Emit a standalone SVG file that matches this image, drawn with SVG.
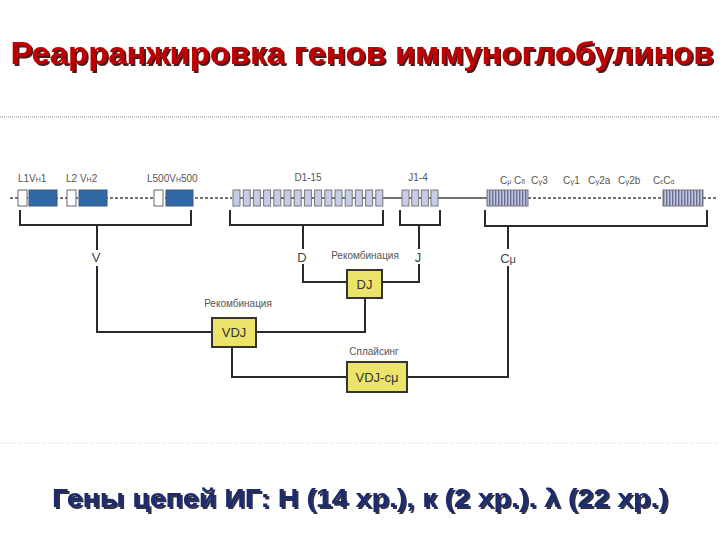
<svg xmlns="http://www.w3.org/2000/svg" width="720" height="540" viewBox="0 0 720 540">
<defs>
<style>
.lbl{font-family:"Liberation Sans",Arial,sans-serif;font-size:10px;fill:#555}
.big{font-family:"Liberation Sans",Arial,sans-serif;font-size:13px;fill:#444}
.conn{fill:none;stroke:#2a2a2a;stroke-width:2}
.brk{fill:none;stroke:#2a2a2a;stroke-width:2}
.ybox{fill:#ece46a;stroke:#333;stroke-width:2}
.ytxt{font-family:"Liberation Sans",Arial,sans-serif;font-size:13px;fill:#333;text-anchor:middle}
.lbox{fill:#fff;stroke:#666;stroke-width:1}
.vbox{fill:#2f68a4;stroke:#3a5a80;stroke-width:1}
.dbox{fill:#c6cbe6;stroke:#777;stroke-width:1}
.dash{stroke:#444;stroke-width:1.5;stroke-dasharray:3 2;fill:none}
.solid{stroke:#444;stroke-width:1.5;fill:none}
</style>
<filter id="shadowR" x="-5%" y="-20%" width="110%" height="150%">
<feDropShadow dx="2" dy="2" stdDeviation="0.4" flood-color="#3a0000" flood-opacity="0.9"/>
</filter>
<filter id="shadowB" x="-5%" y="-20%" width="110%" height="150%">
<feDropShadow dx="2" dy="2" stdDeviation="0.4" flood-color="#000010" flood-opacity="0.8"/>
</filter>
<pattern id="stripe" width="3" height="16" patternUnits="userSpaceOnUse">
<rect width="3" height="16" fill="#c2c6e2"/>
<rect width="1.4" height="16" fill="#6a6e90"/>
</pattern>
</defs>
<rect width="720" height="540" fill="#fff"/>

<g id="title">
<text x="362" y="64" text-anchor="middle" font-family="'Liberation Sans',Arial,sans-serif" font-weight="bold" font-size="31" fill="#c00000" textLength="703" lengthAdjust="spacingAndGlyphs" filter="url(#shadowR)">Реарранжировка генов иммуноглобулинов</text>
</g>
<line x1="0" y1="117" x2="720" y2="117" stroke="#888" stroke-width="1" stroke-dasharray="1 1"/>
<line x1="0" y1="443" x2="720" y2="443" stroke="#ccc" stroke-width="1" stroke-dasharray="1 2"/>

<g id="backbone">
<line class="dash" x1="10" y1="198" x2="232" y2="198"/>
<line class="solid" x1="233" y1="198" x2="487" y2="198"/>
<line class="dash" x1="528" y1="198" x2="663" y2="198"/>
<line class="dash" x1="703" y1="198" x2="716" y2="198"/>
</g>

<g id="V-segments">
<rect class="lbox" x="18" y="190" width="9" height="16"/>
<rect class="vbox" x="29" y="190" width="28" height="16"/>
<rect class="lbox" x="67" y="190" width="9" height="16"/>
<rect class="vbox" x="79" y="190" width="28" height="16"/>
<rect class="lbox" x="154" y="190" width="9" height="16"/>
<rect class="vbox" x="166" y="190" width="27" height="16"/>
<text class="lbl" x="18" y="182">L1V<tspan font-size="7">H</tspan>1</text>
<text class="lbl" x="66" y="182">L2 V<tspan font-size="7">H</tspan>2</text>
<text class="lbl" x="147" y="182">L500V<tspan font-size="7">H</tspan>500</text>
</g>

<g id="D-segments">
<rect class="dbox" x="233" y="190" width="7" height="16"/>
<rect class="dbox" x="243.2" y="190" width="7" height="16"/>
<rect class="dbox" x="253.4" y="190" width="7" height="16"/>
<rect class="dbox" x="263.6" y="190" width="7" height="16"/>
<rect class="dbox" x="273.8" y="190" width="7" height="16"/>
<rect class="dbox" x="284" y="190" width="7" height="16"/>
<rect class="dbox" x="294.2" y="190" width="7" height="16"/>
<rect class="dbox" x="304.4" y="190" width="7" height="16"/>
<rect class="dbox" x="314.6" y="190" width="7" height="16"/>
<rect class="dbox" x="324.8" y="190" width="7" height="16"/>
<rect class="dbox" x="335" y="190" width="7" height="16"/>
<rect class="dbox" x="345.2" y="190" width="7" height="16"/>
<rect class="dbox" x="355.4" y="190" width="7" height="16"/>
<rect class="dbox" x="365.6" y="190" width="7" height="16"/>
<rect class="dbox" x="375.8" y="190" width="7" height="16"/>
<text class="lbl" x="308" y="181" text-anchor="middle">D1-15</text>
</g>

<g id="J-segments">
<rect class="dbox" x="402" y="190" width="7" height="16"/>
<rect class="dbox" x="411.7" y="190" width="7" height="16"/>
<rect class="dbox" x="421.4" y="190" width="7" height="16"/>
<rect class="dbox" x="431" y="190" width="7" height="16"/>
<text class="lbl" x="418" y="181" text-anchor="middle">J1-4</text>
</g>

<g id="C-segments">
<rect x="487" y="190" width="41" height="16" fill="url(#stripe)" stroke="#777" stroke-width="1"/>
<rect x="663" y="190" width="40" height="16" fill="url(#stripe)" stroke="#777" stroke-width="1"/>
<text class="lbl" x="500" y="184">C<tspan font-size="7">μ</tspan></text>
<text class="lbl" x="514" y="184">C<tspan font-size="7">δ</tspan></text>
<text class="lbl" x="531" y="184">C<tspan font-size="8">γ</tspan>3</text>
<text class="lbl" x="563" y="184">C<tspan font-size="8">γ</tspan>1</text>
<text class="lbl" x="588" y="184">C<tspan font-size="8">γ</tspan>2a</text>
<text class="lbl" x="618" y="184">C<tspan font-size="8">γ</tspan>2b</text>
<text class="lbl" x="653" y="184">C<tspan font-size="7">ε</tspan>C<tspan font-size="7">α</tspan></text>
</g>

<g id="brackets">
<path class="brk" d="M20,210 V225 H191 V210"/>
<path class="brk" d="M230,210 V225 H383 V210"/>
<path class="brk" d="M400,210 V225 H440 V210"/>
<path class="brk" d="M485,210 V226 H707 V210"/>
</g>

<g id="connectors">
<path class="conn" d="M97,225 V250"/>
<path class="conn" d="M97,266 V332 H212"/>
<path class="conn" d="M303,225 V249"/>
<path class="conn" d="M303,264 V282 H347"/>
<path class="conn" d="M419,225 V249"/>
<path class="conn" d="M419,264 V282 H382"/>
<path class="conn" d="M365,298 V332 H256"/>
<path class="conn" d="M232,347 V377 H347"/>
<path class="conn" d="M508,226 V249"/>
<path class="conn" d="M508,266 V377 H407"/>
<text class="big" x="96" y="262" text-anchor="middle">V</text>
<text class="big" x="302" y="262" text-anchor="middle">D</text>
<text class="big" x="418" y="262" text-anchor="middle">J</text>
<text class="big" x="508" y="263" text-anchor="middle">C<tspan font-size="11">μ</tspan></text>
</g>

<g id="DJ">
<rect class="ybox" x="347" y="270" width="35" height="28"/>
<text class="ytxt" x="364.5" y="289">DJ</text>
<text class="lbl" x="365" y="259" text-anchor="middle">Рекомбинация</text>
</g>

<g id="VDJ">
<rect class="ybox" x="212" y="318" width="44" height="29"/>
<text class="ytxt" x="234" y="337">VDJ</text>
<text class="lbl" x="238" y="307" text-anchor="middle">Рекомбинация</text>
</g>

<g id="VDJ-cmu">
<rect class="ybox" x="347" y="362" width="60" height="30"/>
<text class="ytxt" x="377" y="382">VDJ-c<tspan>μ</tspan></text>
<text class="lbl" x="374" y="355" text-anchor="middle">Сплайсинг</text>
</g>

<g id="footer">
<text x="360" y="507" text-anchor="middle" font-family="'Liberation Sans',Arial,sans-serif" font-weight="bold" font-size="26" fill="#1c2a6e" textLength="616" lengthAdjust="spacingAndGlyphs" filter="url(#shadowB)">Гены цепей ИГ: Н (14 хр.), к (2 хр.). λ (22 хр.)</text>
</g>
</svg>
